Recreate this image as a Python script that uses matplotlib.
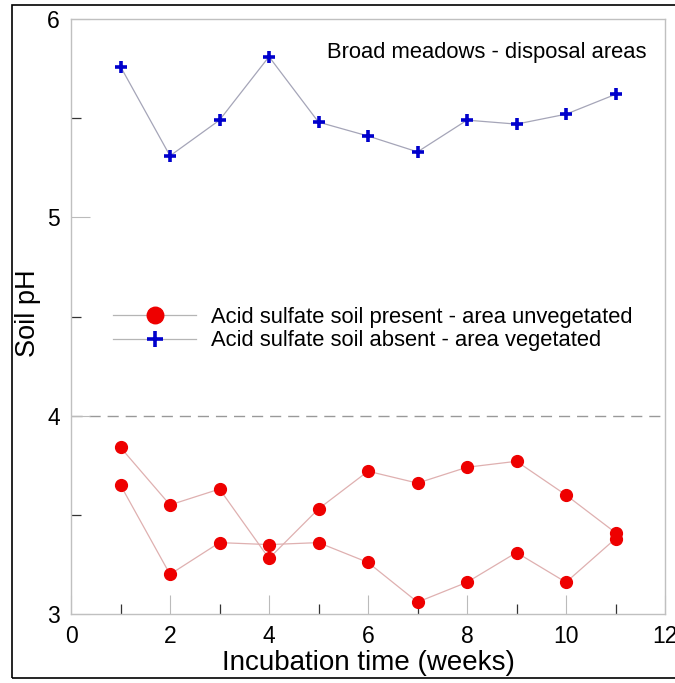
import matplotlib
matplotlib.use("Agg")
import matplotlib.pyplot as plt
from matplotlib.patches import Rectangle
from matplotlib.ticker import MultipleLocator

plt.rcParams['font.family'] = ['Liberation Sans', 'DejaVu Sans']

# incubation weeks
weeks = [1, 2, 3, 4, 5, 6, 7, 8, 9, 10, 11]

# acid sulfate soil present - two replicate runs
ph_present_a = [3.84, 3.55, 3.63, 3.28, 3.53, 3.72, 3.66, 3.74, 3.77, 3.60, 3.41]
ph_present_b = [3.65, 3.20, 3.36, 3.35, 3.36, 3.26, 3.06, 3.16, 3.31, 3.16, 3.38]

# acid sulfate soil absent
ph_absent = [5.76, 5.31, 5.49, 5.81, 5.48, 5.41, 5.33, 5.49, 5.47, 5.52, 5.62]

label_present = "Acid sulfate soil present - area unvegetated"
label_absent = "Acid sulfate soil absent - area vegetated"
site_title = "Broad meadows - disposal areas"

fig = plt.figure(figsize=(6.75, 6.83), dpi=100)
ax = fig.add_axes([0.1052, 0.1010, 0.88, 0.8712])

red = '#ee0000'
blue = '#0000cc'

ax.plot(weeks, ph_present_a, color='#dfb0b0', lw=0.9, marker='o', ms=8.5,
        mfc=red, mec=red, label=label_present)
ax.plot(weeks, ph_present_b, color='#dfb0b0', lw=0.9, marker='o', ms=8.5,
        mfc=red, mec=red)
ax.plot(weeks, ph_absent, color='#a5a5b8', lw=0.9, marker='+', ms=8,
        mew=2.6, mec=blue, label=label_absent)

# pH 4 threshold
ax.axhline(4, color='#999999', lw=1, ls=(0, (8, 5)), zorder=1)

ax.set_xlim(0, 12)
ax.set_ylim(3, 6)
ax.xaxis.set_major_locator(MultipleLocator(2))
ax.xaxis.set_minor_locator(MultipleLocator(1))
ax.yaxis.set_major_locator(MultipleLocator(1))
ax.yaxis.set_minor_locator(MultipleLocator(0.5))
ax.tick_params(which='major', direction='in', length=14, width=0.8,
               color='#bbbbbb', labelsize=16.5, pad=8)
ax.tick_params(which='minor', direction='in', length=7, width=0.9,
               color='#333333')

for s in ax.spines.values():
    s.set_color('#c0c0c0')
    s.set_linewidth(1)

ax.set_xlabel("Incubation time (weeks)", fontsize=20, va='center')
ax.xaxis.set_label_coords(0.5, -0.082)
ax.set_ylabel("Soil pH", fontsize=19.5, va='center')
ax.yaxis.set_label_coords(-0.072, 0.506)

ax.text(0.968, 0.943, site_title, transform=ax.transAxes,
        ha='right', va='center', fontsize=15.8)

leg = ax.legend(loc='center left', bbox_to_anchor=(0.0707, 0.479),
                frameon=False, fontsize=15.8, handlelength=3.8,
                handletextpad=0.68, labelspacing=0.12, borderpad=0,
                borderaxespad=0, markerscale=1.4)
for ln in leg.get_lines():
    ln.set_color('#b5b5b5')

# outer frame around the whole figure (right edge runs off the image)
fig.patches.append(Rectangle((0.0178, 0.0073), 0.99, 0.985, transform=fig.transFigure,
                             fill=False, edgecolor='black', lw=1.2))

fig.savefig("out.png", dpi=100)
